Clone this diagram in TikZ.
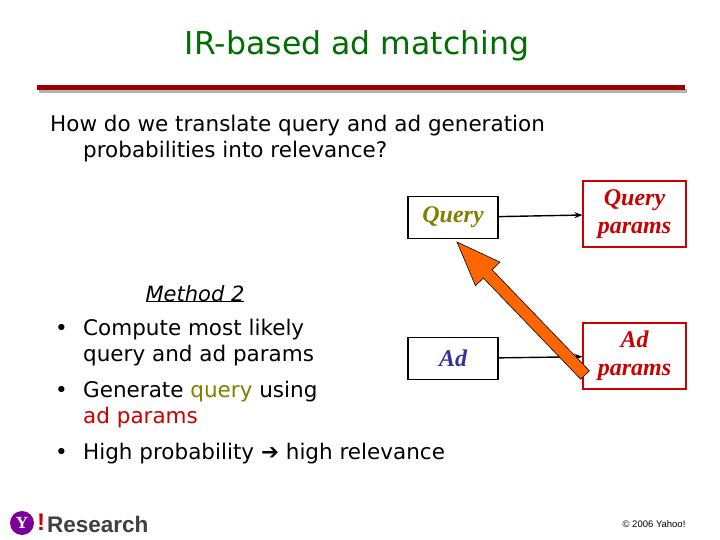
\documentclass[tikz,border=0pt]{standalone}
\usepackage{fontspec}
\setmainfont{DejaVu Sans}
\newfontfamily\tms{Liberation Serif}
\newfontfamily\ars{Liberation Sans}
\usetikzlibrary{arrows.meta,calc}
\definecolor{tgreen}{RGB}{0,110,0}
\definecolor{olive}{RGB}{128,128,0}
\definecolor{dred}{RGB}{153,0,0}
\definecolor{bred}{RGB}{204,0,0}
\definecolor{navy}{RGB}{51,51,153}
\definecolor{orng}{RGB}{255,102,0}
\definecolor{ypurple}{RGB}{123,0,153}
\begin{document}
\begin{tikzpicture}[x=1pt,y=-1pt,
  body/.style={anchor=west,font=\fontsize{21.5}{26}\selectfont,inner sep=0pt},
  blk/.style={draw=black,line width=1.2pt,minimum width=90pt,minimum height=42pt,font=\fontsize{24}{26}\selectfont\tms\bfseries\itshape},
  par/.style={draw=bred,line width=1.2pt,minimum width=103pt,minimum height=66pt,align=center,text=bred,font=\fontsize{24}{28}\selectfont\tms\bfseries\itshape},
  conn/.style={-{Stealth[length=8pt,width=6pt]},line width=1.4pt}]
\useasboundingbox (0,0) rectangle (720,540);
\fill[white] (0,0) rectangle (720,540);
\node[text=tgreen,font=\fontsize{31.5}{34}\selectfont] (title) at (357,46) {IR-based ad matching};
\fill[gray!60] (39,89) rectangle (687,93);
\fill[dred] (37,85) rectangle (685,90);
\node[body] (q1) at (50,126) {How do we translate query and ad generation};
\node[body] (q2) at (83,152) {probabilities into relevance?};
\node[blk,text=olive] (query) at (453,217.5) {Query};
\node[blk,text=navy] (ad) at (453,358.5) {Ad};
\node[par] (qp) at (634.5,214) {Query\\params};
\node[par] (ap) at (634.5,356) {Ad\\params};
\draw[conn] (query) -- (qp);
\draw[conn] (ad) -- (ap);
\coordinate (tail) at (585,375);
\coordinate (tip) at (457,242);
\coordinate (H) at ($(tail)!0.76!(tip)$);
\draw[draw=black,fill=orng,line width=0.6pt,line join=miter]
  ($(tail)!6pt!90:(tip)$) -- ($(H)!6pt!90:(tip)$) -- ($(H)!17pt!90:(tip)$) -- (tip)
  -- ($(H)!17pt!-90:(tip)$) -- ($(H)!6pt!-90:(tip)$) -- ($(tail)!6pt!-90:(tip)$) -- cycle;
\node[font=\fontsize{21}{22}\selectfont\itshape] (m2) at (195,294) {Method 2};
\draw[line width=0.8pt] ($(m2.south west)+(4,-4)$) -- ($(m2.south east)+(-4,-4)$);
\node[body] (b1) at (55,330) {•};
\node[body] (l1) at (83,330) {Compute most likely};
\node[body] (l2) at (83,356) {query and ad params};
\node[body] (b2) at (55,392) {•};
\node[body] (l3) at (83,392) {Generate \textcolor{olive}{query} using};
\node[body] (l4) at (83,418) {\textcolor{bred}{ad params}};
\node[body] (b3) at (55,454) {•};
\node[body] (l5) at (83,454) {High probability ➔ high relevance};
\node[circle,fill=ypurple,minimum size=24pt,inner sep=0pt,text=white,font=\fontsize{17}{17}\selectfont\tms\bfseries] (yl) at (22,523) {Y};
\node[text=bred,font=\fontsize{24}{24}\selectfont\ars\bfseries,inner sep=0pt] (ex) at (41,522) {!};
\node[anchor=west,text=black!75,font=\fontsize{22.5}{23}\selectfont\ars\bfseries,inner sep=0pt] (res) at (47,524) {Research};
\node[font=\fontsize{9.5}{10}\selectfont\ars,inner sep=0pt] (copy) at (654,524) {© 2006 Yahoo!};
\end{tikzpicture}
\end{document}
